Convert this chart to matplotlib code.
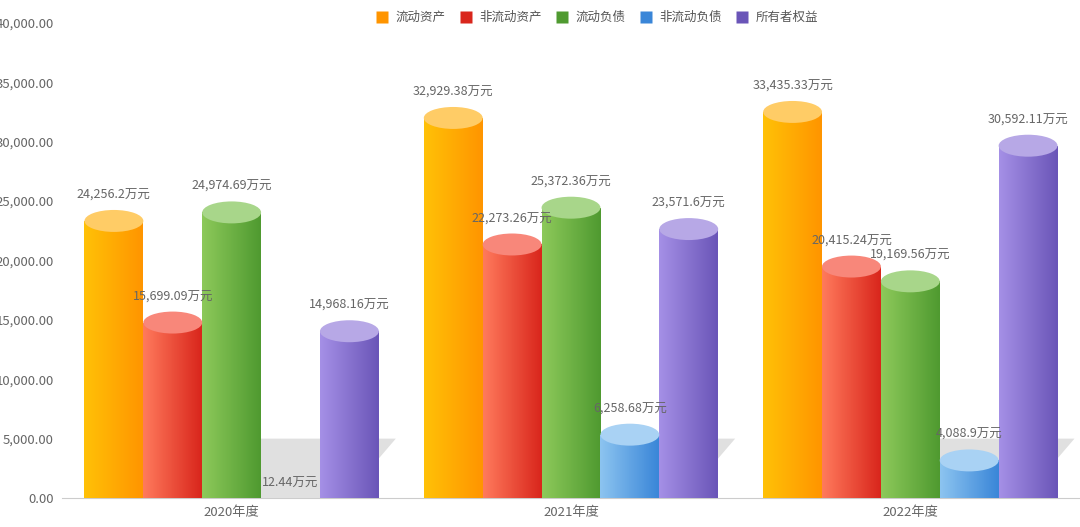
import matplotlib
matplotlib.use("Agg")
import numpy as np
import matplotlib.pyplot as plt
from matplotlib.patches import Rectangle, Ellipse, Polygon
from matplotlib.colors import LinearSegmentedColormap
from matplotlib.lines import Line2D

plt.rcParams['font.family'] = ['Noto Sans CJK SC', 'DejaVu Sans']

years = ['2020年度', '2021年度', '2022年度']
series = ['流动资产', '非流动资产', '流动负债', '非流动负债', '所有者权益']
values = [
    [24256.2, 32929.38, 33435.33],
    [15699.09, 22273.26, 20415.24],
    [24974.69, 25372.36, 19169.56],
    [12.44, 6258.68, 4088.9],
    [14968.16, 23571.6, 30592.11],
]
labels = [
    ['24,256.2万元', '32,929.38万元', '33,435.33万元'],
    ['15,699.09万元', '22,273.26万元', '20,415.24万元'],
    ['24,974.69万元', '25,372.36万元', '19,169.56万元'],
    ['12.44万元', '6,258.68万元', '4,088.9万元'],
    ['14,968.16万元', '23,571.6万元', '30,592.11万元'],
]
# (light, dark, top)
colors = [
    ('#ffc107', '#ff9500', '#ffcc66'),
    ('#ff7a5c', '#d9261c', '#f8877a'),
    ('#8dc95a', '#4f9a30', '#a8d68a'),
    ('#8cc4f0', '#3a86d8', '#a9d2f4'),
    ('#a590e6', '#6a55b8', '#b7a8e6'),
]

fig = plt.figure(figsize=(10.8, 5.27), dpi=100)
ax = fig.add_axes([62/1080, 29/527, 1018/1080, 475/527])

w = 0.1735
eh = 1850  # ellipse height in data units
grad = np.linspace(0, 1, 64).reshape(1, -1)

for g in range(len(years)):
    # soft shadow behind each group
    x1 = g + 2.5 * w
    ax.add_patch(Polygon([(x1 - 0.6, 0), (x1 - 0.35, 5000), (x1 + 0.05, 5000), (x1 - 0.1, 0)],
                         closed=True, fc='#e0e0e0', ec='none', zorder=1))

for s in range(len(series)):
    light, dark, top = colors[s]
    cmap = LinearSegmentedColormap.from_list('c%d' % s, [light, dark])
    for g in range(len(years)):
        x0 = g + (s - 2) * w - w / 2
        v = values[s][g]
        ytop = max(v - eh / 2, 0)
        body = Rectangle((x0, 0), w, ytop, fc='none', ec='none')
        ax.add_patch(body)
        im = ax.imshow(grad, cmap=cmap, extent=(x0, x0 + w, -eh, ytop), aspect='auto', zorder=2)
        im.set_clip_path(body)
        if v > 200:
            bot = Ellipse((x0 + w / 2, 0), w, eh * 0.6, fc='none', ec='none')
            ax.add_patch(bot)
            im2 = ax.imshow(grad, cmap=cmap, extent=(x0, x0 + w, -eh, eh), aspect='auto', zorder=2)
            im2.set_clip_path(bot)
            ax.add_patch(Ellipse((x0 + w / 2, ytop), w, eh, fc=top, ec='none', zorder=3))
        ax.text(x0 + w / 2, v + 700, labels[s][g], ha='center', va='bottom', fontsize=9,
                color='#666666', zorder=5)

ax.set_xlim(-0.5, 2.5)
ax.set_ylim(0, 40000)
yt = np.arange(0, 40001, 5000)
ax.set_yticks(yt)
ax.set_yticklabels(['{:,.2f}'.format(t) for t in yt], fontsize=9.5, color='#666666')
ax.set_xticks(range(len(years)))
ax.set_xticklabels(years, fontsize=9.5, color='#666666')
ax.tick_params(length=0, pad=6)
for sp in ['top', 'right', 'left']:
    ax.spines[sp].set_visible(False)
ax.spines['bottom'].set_color('#cccccc')
ax.spines['bottom'].set_zorder(0)

handles = [Line2D([], [], marker='s', ls='none', ms=8, mfc=c[1], mec='none') for c in colors]
fig.legend(handles, series, loc='upper center', bbox_to_anchor=(0.55, 1.0), ncol=5, frameon=False,
           fontsize=9, handletextpad=0.1, columnspacing=0.6, labelcolor='#555555')

fig.savefig('out.png', dpi=100)
